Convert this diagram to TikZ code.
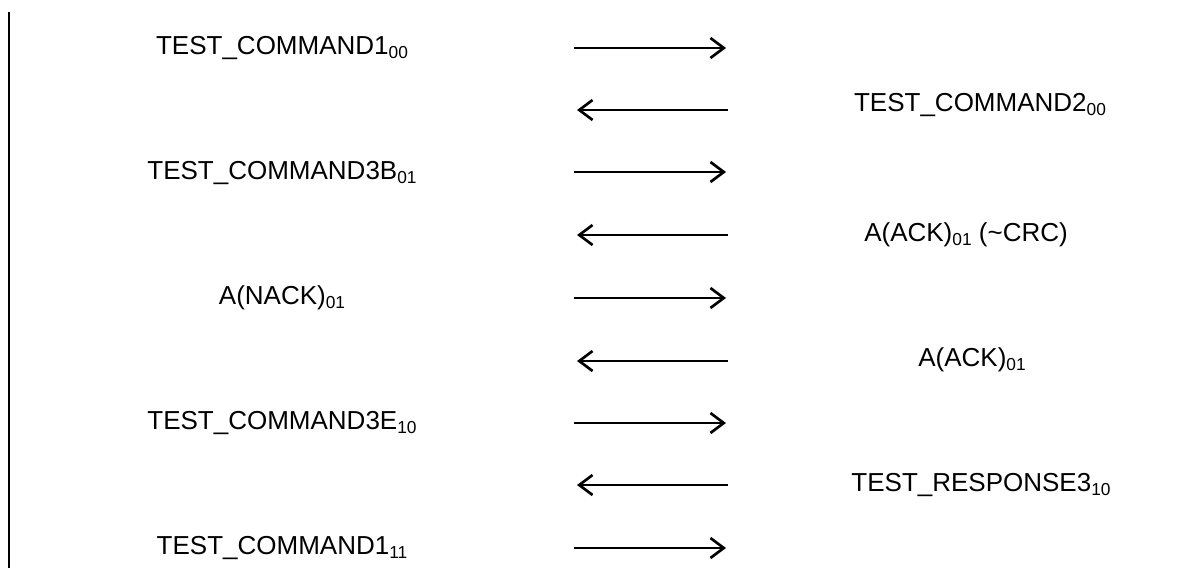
\documentclass[tikz,border=0pt]{standalone}
\usepackage{fontspec}
\setmainfont{Liberation Sans}
\usetikzlibrary{arrows.meta}
\newcommand{\idx}[1]{\raisebox{-3pt}{\fontsize{13}{13}\selectfont #1}}
\tikzset{
  msg/.style= {font=\fontsize{19.5}{22}\selectfont, inner sep=0, anchor=base},
  sig/.style= {line width=2pt, -{Straight Barb[length=10pt, width=15pt, line width=2pt]}},
  life/.style= {line width=1.6pt},
}

\begin{document}
\begin{tikzpicture}[x=0.75pt, y=-0.75pt]
  \useasboundingbox (0,0) rectangle (1202,568) ;
  \coordinate (top) at (9,12) ;
  \coordinate (bot) at (9,568) ;
  \draw [life] (top) -- (bot) ;

  \node [msg] (m1) at (282,54) {TEST\_COMMAND1\idx{00}} ;
  \node [msg] (m2) at (980,111) {TEST\_COMMAND2\idx{00}} ;
  \node [msg] (m3) at (282,179) {TEST\_COMMAND3B\idx{01}} ;
  \node [msg] (m4) at (966,241) {A(ACK)\idx{01} (\textasciitilde CRC)} ;
  \node [msg] (m5) at (282,304) {A(NACK)\idx{01}} ;
  \node [msg] (m6) at (972,366) {A(ACK)\idx{01}} ;
  \node [msg] (m7) at (282,429) {TEST\_COMMAND3E\idx{10}} ;
  \node [msg] (m8) at (981,491) {TEST\_RESPONSE3\idx{10}} ;
  \node [msg] (m9) at (282,554) {TEST\_COMMAND1\idx{11}} ;

  \coordinate (a1) at (574,48) ;  \coordinate (b1) at (726,48) ;
  \coordinate (a2) at (728,110) ; \coordinate (b2) at (577,110) ;
  \coordinate (a3) at (574,172) ; \coordinate (b3) at (726,172) ;
  \coordinate (a4) at (728,235) ; \coordinate (b4) at (577,235) ;
  \coordinate (a5) at (574,298) ; \coordinate (b5) at (726,298) ;
  \coordinate (a6) at (728,361) ; \coordinate (b6) at (577,361) ;
  \coordinate (a7) at (574,423) ; \coordinate (b7) at (726,423) ;
  \coordinate (a8) at (728,485) ; \coordinate (b8) at (577,485) ;
  \coordinate (a9) at (574,548) ; \coordinate (b9) at (726,548) ;

  \draw [sig] (a1) -- (b1) ;
  \draw [sig] (a2) -- (b2) ;
  \draw [sig] (a3) -- (b3) ;
  \draw [sig] (a4) -- (b4) ;
  \draw [sig] (a5) -- (b5) ;
  \draw [sig] (a6) -- (b6) ;
  \draw [sig] (a7) -- (b7) ;
  \draw [sig] (a8) -- (b8) ;
  \draw [sig] (a9) -- (b9) ;
\end{tikzpicture}
\end{document}
